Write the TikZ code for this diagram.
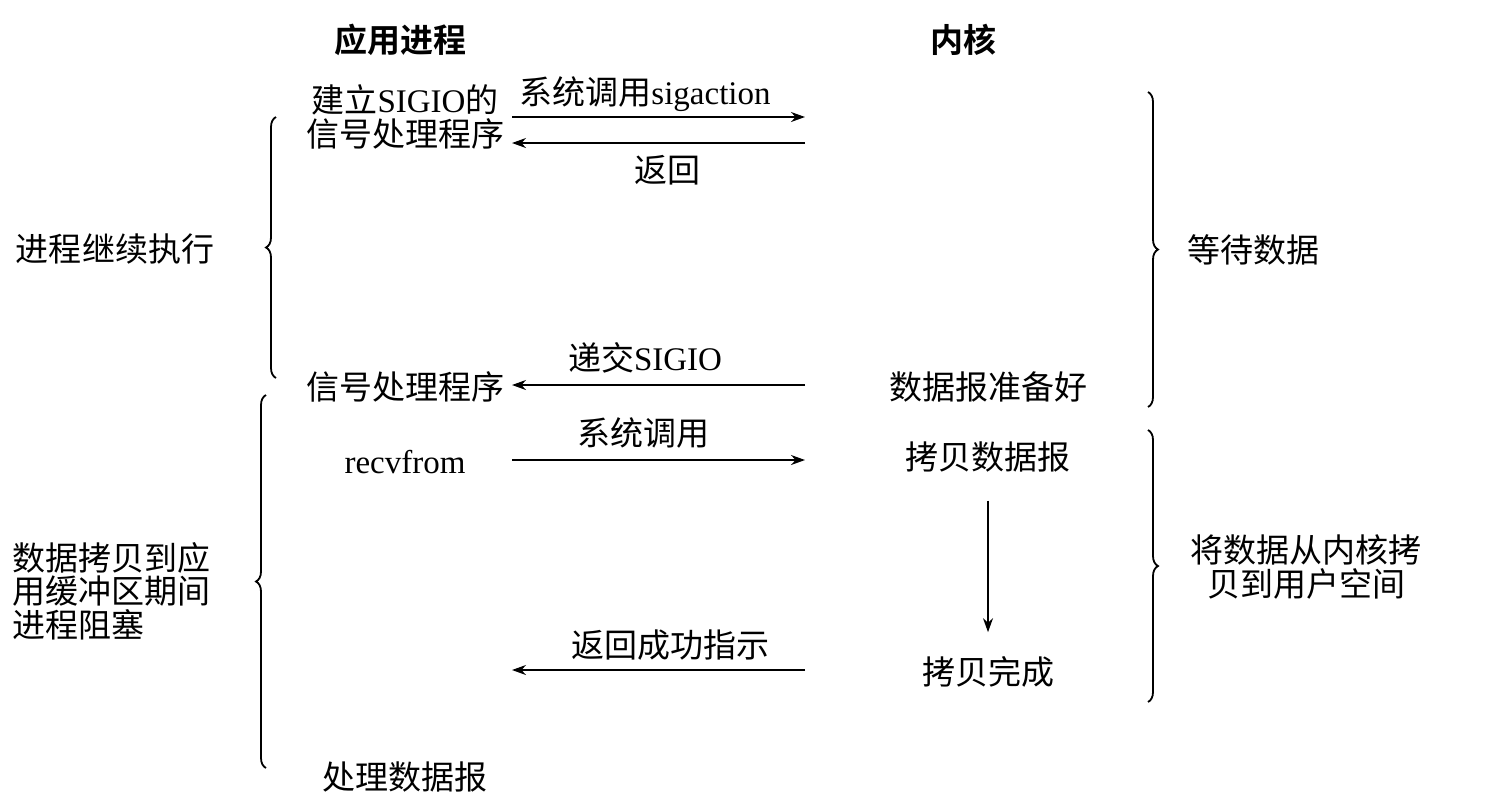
\documentclass[tikz,border=0pt]{standalone}
\usepackage{fontspec}
\setmainfont{Liberation Serif}
\newfontfamily\cjk[BoldFont={Noto Sans CJK SC Bold}]{Noto Sans CJK SC}
\usetikzlibrary{arrows.meta,decorations.pathreplacing}
\begin{document}
\begin{tikzpicture}[x=0.5pt,y=-0.5pt,
  txt/.style={font=\fontsize{16.5}{16.8}\selectfont\cjk, inner sep=0pt, align=center},
  hdr/.style={font=\fontsize{16.5}{16.5}\selectfont\cjk\bfseries, inner sep=0pt},
  msg/.style={line width=0.8pt, -{Stealth[length=7pt,width=5pt]}},
  brc/.style={line width=0.9pt, decorate, decoration={brace, amplitude=5pt}}
]
\fill[white] (0,0) rectangle (1509,811);
\useasboundingbox (0,0) rectangle (1509,811);

% headers
\node[hdr] (happ) at (400,40) {应用进程};
\node[hdr] (hker) at (963,40) {内核};

% application side
\node[txt] (setup) at (405,117) {建立{\rmfamily SIGIO}的\\信号处理程序};
\node[txt] (handler) at (405,387) {信号处理程序};
\node[txt, font=\fontsize{16.5}{16.5}\selectfont\rmfamily] (recv) at (405,462) {recvfrom};
\node[txt] (proc) at (405,777) {处理数据报};

% kernel side
\node[txt] (ready) at (988,387) {数据报准备好};
\node[txt] (copy) at (988,457) {拷贝数据报};
\node[txt] (done) at (988,672) {拷贝完成};

% message end points
\coordinate (a1) at (512,117); \coordinate (b1) at (805,117);
\coordinate (a2) at (512,143); \coordinate (b2) at (805,143);
\coordinate (a3) at (512,385); \coordinate (b3) at (805,385);
\coordinate (a4) at (512,460); \coordinate (b4) at (805,460);
\coordinate (a5) at (512,670); \coordinate (b5) at (805,670);

\draw[msg] (a1) -- (b1);
\draw[msg] (b2) -- (a2);
\draw[msg] (b3) -- (a3);
\draw[msg] (a4) -- (b4);
\draw[msg] (b5) -- (a5);
\draw[msg, shorten <=14pt, shorten >=12pt] (copy) -- (done);

% message labels
\node[txt] (l1) at (645,94) {系统调用{\rmfamily sigaction}};
\node[txt] (l2) at (667,170) {返回};
\node[txt] (l3) at (645,358) {递交{\rmfamily SIGIO}};
\node[txt] (l4) at (643,433) {系统调用};
\node[txt] (l5) at (670,645) {返回成功指示};

% braces
\coordinate (lb1s) at (276,378); \coordinate (lb1e) at (276,117);
\coordinate (lb2s) at (266,768); \coordinate (lb2e) at (266,395);
\coordinate (rb1s) at (1148,92); \coordinate (rb1e) at (1148,407);
\coordinate (rb2s) at (1148,430); \coordinate (rb2e) at (1148,702);
\draw[brc] (lb1s) -- (lb1e);
\draw[brc] (lb2s) -- (lb2e);
\draw[brc] (rb1s) -- (rb1e);
\draw[brc] (rb2s) -- (rb2e);

% side labels
\node[txt] (cont) at (115,249) {进程继续执行};
\node[txt, align=left, anchor=west] (block) at (12,591) {数据拷贝到应\\用缓冲区期间\\进程阻塞};
\node[txt] (wait) at (1253,250) {等待数据};
\node[txt] (copyk) at (1306,567) {将数据从内核拷\\贝到用户空间};
\end{tikzpicture}
\end{document}
